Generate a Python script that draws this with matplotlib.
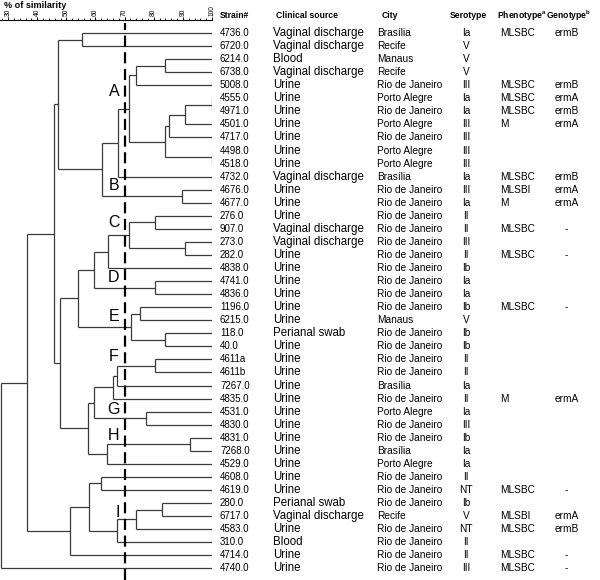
import numpy as np
import matplotlib
matplotlib.use("Agg")
import matplotlib.pyplot as plt
from matplotlib.transforms import blended_transform_factory

plt.rcParams['font.family'] = ['Liberation Sans', 'DejaVu Sans']

strains = ["4736.0", "6720.0", "6214.0", "6738.0", "5008.0", "4555.0", "4971.0",
           "4501.0", "4717.0", "4498.0", "4518.0", "4732.0", "4676.0", "4677.0",
           "276.0", "907.0", "273.0", "282.0", "4838.0", "4741.0", "4836.0",
           "1196.0", "6215.0", "118.0", "40.0", "4611a", "4611b", "7267.0",
           "4835.0", "4531.0", "4830.0", "4831.0", "7268.0", "4529.0", "4608.0",
           "4619.0", "280.0", "6717.0", "4583.0", "310.0", "4714.0", "4740.0"]
VD, U, B, PS = "Vaginal discharge", "Urine", "Blood", "Perianal swab"
sources = [VD, VD, B, VD, U, U, U, U, U, U, U, VD, U, U, U, VD, VD, U, U, U, U,
           U, U, PS, U, U, U, U, U, U, U, U, U, U, U, U, PS, VD, U, B, U, U]
RJ, PA, BR = "Rio de Janeiro", "Porto Alegre", "Brasília"
cities = [BR, "Recife", "Manaus", "Recife", RJ, PA, RJ, PA, RJ, PA, PA, BR, RJ, RJ,
          RJ, RJ, RJ, RJ, RJ, RJ, RJ, RJ, "Manaus", RJ, RJ, RJ, RJ, BR, RJ, PA, RJ,
          RJ, BR, PA, RJ, RJ, RJ, "Recife", RJ, RJ, RJ, RJ]
serotypes = ["Ia", "V", "V", "V", "III", "Ia", "Ia", "III", "III", "III", "III", "Ia",
             "III", "Ia", "II", "II", "III", "II", "Ib", "Ia", "Ia", "Ib", "V", "Ib",
             "Ib", "II", "II", "Ia", "II", "Ia", "III", "Ib", "Ia", "Ia", "II", "NT",
             "Ib", "V", "NT", "II", "II", "III"]
phenotypes = ["MLSBC", "", "", "", "MLSBC", "MLSBC", "MLSBC", "M", "", "", "", "MLSBC",
              "MLSBI", "M", "", "MLSBC", "", "MLSBC", "", "", "", "MLSBC", "", "", "",
              "", "", "", "M", "", "", "", "", "", "", "MLSBC", "", "MLSBI", "MLSBC",
              "", "MLSBC", "MLSBC"]
genotypes = ["ermB", "", "", "", "ermB", "ermA", "ermB", "ermA", "", "", "", "ermB",
             "ermA", "ermA", "", "-", "", "-", "", "", "", "-", "", "", "", "", "", "",
             "ermA", "", "", "", "", "", "", "-", "", "ermA", "ermB", "", "-", "-"]

# merges: (left, right, % similarity); ints are leaf rows, "nK" refers to merge K
merges = [
    (0, 1, 55.3), (2, 3, 83.7), ("n1", 4, 74.0), (5, 6, 100.0), ("n3", 7, 90.6),
    ("n4", 8, 85.1), (9, 10, 100.0), ("n5", "n6", 83.7), ("n2", "n7", 71.6),
    ("n8", 11, 67.8), (12, 13, 89.6), ("n9", "n10", 62.2), ("n0", "n11", 47.0),
    (14, 15, 80.6), (16, 17, 90.6), ("n13", "n14", 71.6), ("n15", 18, 64.3),
    (19, 20, 80.6), ("n16", "n17", 59.5), (21, 22, 75.4), (23, 24, 83.7),
    ("n19", "n20", 72.3), ("n18", "n21", 53.9), (25, 26, 80.6), ("n23", 27, 67.4),
    ("n24", 28, 66.0), (29, 30, 77.5), ("n25", "n26", 59.5), (31, 32, 92.4),
    ("n28", 33, 64.0), ("n27", "n29", 57.4), ("n22", "n30", 47.7),
    ("n12", "n31", 45.6), (34, 35, 61.9), (36, 37, 83.0), ("n34", 38, 74.0),
    ("n35", 39, 67.4), ("n33", "n36", 57.7), ("n37", 40, 51.1),
    ("n32", "n38", 36.6), ("n39", 41, 27.6),
]
cluster_names = ["A", "B", "C", "D", "E", "F", "G", "H", "I"]
cluster_rows = [4.5, 11.65, 14.55, 18.7, 21.75, 24.8, 28.85, 30.8, 36.7]
cutoff = 70

fig = plt.figure(figsize=(6, 5.8), dpi=100)
ax = fig.add_axes([0, 0, 212 / 600, 560 / 580])
ax.set_xlim(27.23, 100)
ax.set_ylim(41.9, -1.0)

lc = '#3a3a3a'
pos = {}
for k, (a, b, s) in enumerate(merges):
    pts = []
    for c in (a, b):
        if isinstance(c, str):
            x, y = pos[int(c[1:])]
        else:
            x, y = 100.0, float(c)
        ax.plot([x, s], [y, y], color=lc, lw=0.9, solid_capstyle='butt')
        pts.append(y)
    ax.plot([s, s], pts, color=lc, lw=0.9, solid_capstyle='butt')
    pos[k] = (s, (pts[0] + pts[1]) / 2)

ax.axvline(cutoff, ymax=0.995, color='black', lw=1.6, ls=(0, (5, 2.5)))

for name, r in zip(cluster_names, cluster_rows):
    ax.text(66.3 if name != "I" else 67.6, r, name, fontsize=11.5,
            ha='center', va='center')

for sp in ['right', 'bottom', 'left']:
    ax.spines[sp].set_visible(False)
ax.spines['top'].set_linewidth(0.8)
ax.xaxis.tick_top()
ax.set_xticks(np.arange(30, 101, 10))
ax.set_xticks(np.arange(28, 101, 2), minor=True)
ax.tick_params(axis='x', which='major', length=2.5, width=0.7, labelsize=4.8,
               labelrotation=90, pad=0.5)
ax.tick_params(axis='x', which='minor', length=1.3, width=0.6)
ax.set_yticks([])
fig.text(4 / 600, 1 - 1 / 580, "% of similarity", fontsize=6.6, fontweight='bold',
         va='top')

tr = blended_transform_factory(fig.transFigure, ax.transData)
hy = -1.35
hdr = dict(fontsize=6.2, fontweight='bold', va='center', transform=tr, clip_on=False)
ax.text(220 / 600, hy, "Strain#", **hdr)
ax.text(276 / 600, hy, "Clinical source", **hdr)
ax.text(382 / 600, hy, "City", **hdr)
ax.text(450 / 600, hy, "Serotype", **hdr)
ax.text(497 / 600, hy, "Phenotype$^{\\mathregular{a}}$", **hdr)
ax.text(546 / 600, hy, "Genotype$^{\\mathregular{b}}$", **hdr)

for i in range(len(strains)):
    kw = dict(va='center', transform=tr, clip_on=False)
    ax.text(220 / 600, i, strains[i], fontsize=7, **kw)
    ax.text(273 / 600, i, sources[i], fontsize=8.3, **kw)
    ax.text(377 / 600, i, cities[i], fontsize=7.3, **kw)
    ax.text(466 / 600, i, serotypes[i], fontsize=7.3, ha='center', **kw)
    ax.text(500 / 600, i, phenotypes[i], fontsize=7.3, **kw)
    g = genotypes[i]
    ax.text((565 if g == "-" else 555) / 600, i, g, fontsize=7.3, **kw)

fig.savefig("out.png", dpi=100)
